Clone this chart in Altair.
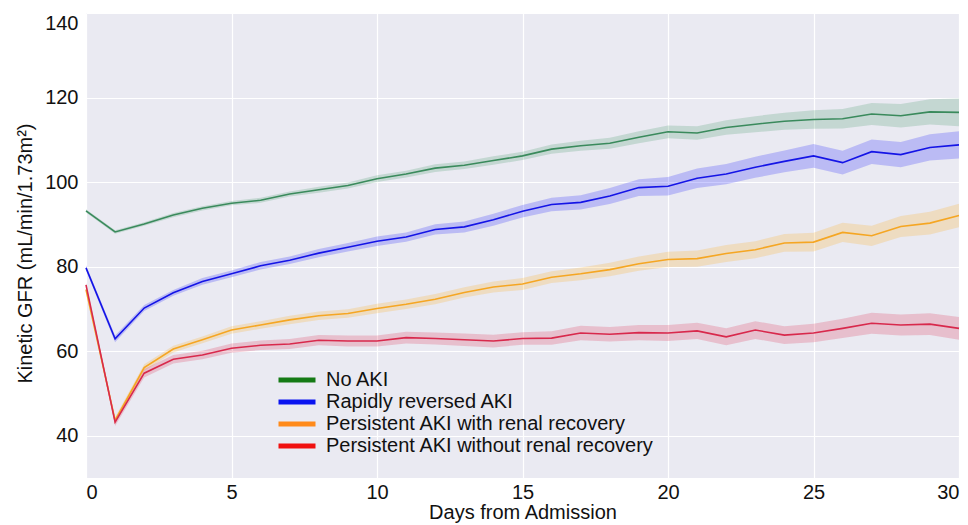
import altair as alt
import pandas as pd

days = list(range(31))

groups = [
    "No AKI",
    "Rapidly reversed AKI",
    "Persistent AKI with renal recovery",
    "Persistent AKI without renal recovery",
]

no_aki = [93.2, 88.2, 90.1, 92.2, 93.8, 95.0, 95.7, 97.2, 98.2, 99.2, 100.8, 101.9, 103.3, 104.0, 105.1, 106.2,
          107.8, 108.6, 109.2, 110.6, 111.9, 111.6, 112.9, 113.7, 114.4, 114.8, 115.0, 116.1, 115.7, 116.6, 116.5]
no_aki_hw = [0.4, 0.4, 0.4, 0.5, 0.5, 0.5, 0.6, 0.6, 0.7, 0.7, 0.8, 0.8, 0.9, 0.9, 1.0, 1.0,
             1.1, 1.2, 1.3, 1.4, 1.5, 1.6, 1.7, 1.9, 2.0, 2.2, 2.3, 2.6, 2.8, 3.0, 3.3]

rapid = [79.7, 62.9, 70.2, 73.8, 76.5, 78.3, 80.2, 81.5, 83.2, 84.6, 86.0, 87.0, 88.8, 89.4, 91.1, 93.1,
         94.7, 95.2, 96.7, 98.7, 99.0, 100.9, 101.9, 103.5, 104.9, 106.2, 104.6, 107.2, 106.5, 108.2, 108.8]
rapid_hw = [0.6, 0.8, 0.7, 0.7, 0.8, 0.8, 0.9, 0.9, 1.0, 1.0, 1.1, 1.1, 1.2, 1.3, 1.4, 1.5,
            1.6, 1.7, 1.9, 2.0, 2.2, 2.3, 2.4, 2.5, 2.6, 2.8, 2.8, 2.9, 3.0, 3.1, 3.2]

with_rec = [74.6, 43.6, 56.1, 60.5, 62.7, 65.0, 66.2, 67.4, 68.4, 68.9, 70.1, 71.1, 72.3, 73.9, 75.2, 75.9,
            77.5, 78.3, 79.3, 80.7, 81.7, 81.9, 83.1, 84.0, 85.6, 85.8, 88.1, 87.3, 89.5, 90.3, 92.1]
with_rec_hw = [0.5, 0.8, 0.8, 0.8, 0.8, 0.9, 0.9, 1.0, 1.0, 1.0, 1.1, 1.1, 1.2, 1.2, 1.3, 1.4,
               1.4, 1.5, 1.6, 1.7, 1.8, 1.9, 2.0, 2.0, 2.1, 2.2, 2.3, 2.4, 2.5, 2.7, 2.8]

without_rec = [75.7, 43.2, 54.8, 58.1, 59.1, 60.7, 61.4, 61.7, 62.6, 62.4, 62.4, 63.2, 63.0, 62.7, 62.4, 63.0,
               63.1, 64.3, 64.0, 64.4, 64.3, 64.8, 63.4, 65.0, 63.8, 64.3, 65.4, 66.6, 66.2, 66.4, 65.4]
without_rec_hw = [0.5, 0.9, 1.0, 1.0, 1.0, 1.1, 1.1, 1.2, 1.2, 1.3, 1.3, 1.4, 1.4, 1.5, 1.5, 1.5,
                  1.6, 1.7, 1.7, 1.8, 1.9, 1.9, 2.0, 2.1, 2.1, 2.2, 2.3, 2.5, 2.5, 2.6, 2.7]

line_colors = ["#3a8a5c", "#1414e6", "#f5a623", "#d8294c"]
band_colors = ["#2e8b57", "#0000ff", "#ffa500", "#dc143c"]
legend_colors = ["#157a15", "#0a14f0", "#ff8a1a", "#f01010"]

x_ticks = [0, 5, 10, 15, 20, 25, 30]
y_ticks = [40, 60, 80, 100, 120, 140]

rows = []
for g, mean, hw in zip(groups, [no_aki, rapid, with_rec, without_rec],
                       [no_aki_hw, rapid_hw, with_rec_hw, without_rec_hw]):
    for d, m, h in zip(days, mean, hw):
        rows.append({"day": d, "gfr": m, "lo": m - h, "hi": m + h,
                     "group": g, "band_group": g, "line_group": g})
df = pd.DataFrame(rows)

FONT = "Liberation Sans"

x = alt.X("day:Q", title="Days from Admission",
          scale=alt.Scale(domain=[0, 30], nice=False),
          axis=alt.Axis(values=x_ticks, labelFontSize=20, titleFontSize=20, labelPadding=4,
                        titleY=40, titleBaseline="alphabetic", format="d"))
y = alt.Y("gfr:Q", title="Kinetic GFR (mL/min/1.73m²)",
          scale=alt.Scale(domain=[30, 140], nice=False, zero=False),
          axis=alt.Axis(values=y_ticks, labelFontSize=20, titleFontSize=20, labelPadding=8,
                        labelBaseline=alt.condition("datum.value == 140", alt.value("top"), alt.value("middle")),
                        titleX=-61, titleY=240, titleBaseline="middle", titleAngle=-90, titleAlign="center"))

# fill / stroke scales use the groups in reverse order so their (hidden) legends
# are not merged with the visible colour legend
bands = alt.Chart(df).mark_area(opacity=0.2).encode(
    x=x,
    y=alt.Y("lo:Q", scale=alt.Scale(domain=[30, 140], nice=False, zero=False)),
    y2="hi:Q",
    fill=alt.Fill("band_group:N", scale=alt.Scale(domain=groups[::-1], range=band_colors[::-1]), legend=None),
    detail="band_group:N",
)

lines = alt.Chart(df).mark_line(strokeWidth=1.6).encode(
    x=x,
    y=y,
    stroke=alt.Stroke("line_group:N", scale=alt.Scale(domain=groups[::-1], range=line_colors[::-1]), legend=None),
    detail="line_group:N",
)

legend_layer = alt.Chart(df).transform_filter("datum.day < 0").mark_line().encode(
    x="day:Q",
    y="gfr:Q",
    color=alt.Color("group:N", scale=alt.Scale(domain=groups, range=legend_colors),
                    legend=alt.Legend(title=None, orient="none", legendX=199, legendY=355,
                                      symbolType="M-2,0H2", symbolSize=342, symbolStrokeWidth=5,
                                      symbolOpacity=1, labelFontSize=20, labelOffset=17,
                                      rowPadding=0, padding=0, labelFont=FONT,
                                      labelColor="#111111", labelLimit=500)),
)

chart = alt.layer(bands, lines, legend_layer).properties(
    width=873, height=465,
    autosize=alt.AutoSizeParams(type="none"),
    padding={"left": 78, "top": 5, "right": 1, "bottom": 46},
    background="white",
).configure_view(
    fill="#EAEAF2", stroke=None
).configure_axis(
    grid=True, gridColor="white", gridWidth=1.2, domain=False, ticks=False,
    labelFont=FONT, titleFont=FONT, labelColor="#111111", titleColor="#111111",
    titleFontWeight="normal",
)

chart.save("out.html", embed_options={"renderer": "svg", "actions": False})
